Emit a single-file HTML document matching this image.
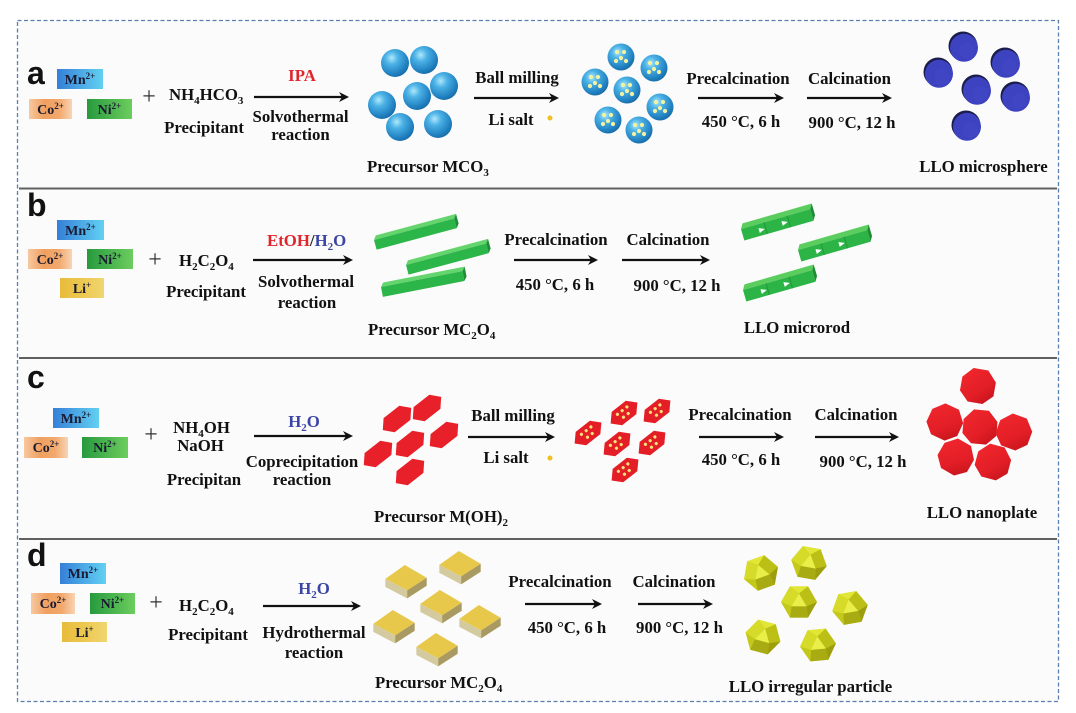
<!DOCTYPE html>
<html><head><meta charset="utf-8">
<style>
html,body{margin:0;padding:0;background:#fff;}
svg{display:block;}
.t{font-family:"Liberation Serif",serif;font-weight:bold;font-size:16.8px;fill:#111;}
.ion{font-family:"Liberation Serif",serif;font-weight:bold;font-size:14px;fill:#1a1a30;}
.L{font-family:"Liberation Sans",sans-serif;font-weight:bold;font-size:32px;fill:#111;}
.p{font-family:"Liberation Serif",serif;font-size:24px;fill:#333;}
</style></head>
<body>
<svg width="1076" height="713" viewBox="0 0 1076 713" xmlns="http://www.w3.org/2000/svg">
<defs>
  <radialGradient id="gBlue" cx="0.38" cy="0.32" r="0.72">
    <stop offset="0" stop-color="#b0e8fb"/>
    <stop offset="0.32" stop-color="#4cb2e6"/>
    <stop offset="0.8" stop-color="#2080c0"/>
    <stop offset="1" stop-color="#176aa6"/>
  </radialGradient>
  <linearGradient id="gMn" x1="0" x2="1" y1="0" y2="0">
    <stop offset="0" stop-color="#3580d8"/><stop offset="1" stop-color="#62d0f2"/>
  </linearGradient>
  <linearGradient id="gCo" x1="0" x2="1" y1="0" y2="0">
    <stop offset="0" stop-color="#f7c8a0"/><stop offset="0.35" stop-color="#f0a060"/><stop offset="0.7" stop-color="#f2a86c"/><stop offset="1" stop-color="#f8d4b4"/>
  </linearGradient>
  <linearGradient id="gNi" x1="0" x2="1" y1="0" y2="0">
    <stop offset="0" stop-color="#279a3e"/><stop offset="1" stop-color="#6ccd5e"/>
  </linearGradient>
  <linearGradient id="gLi" x1="0" x2="1" y1="0" y2="0">
    <stop offset="0" stop-color="#e8bc3c"/><stop offset="0.5" stop-color="#ecc850"/><stop offset="1" stop-color="#f0d670"/>
  </linearGradient>
  <linearGradient id="gRed" x1="0" y1="0" x2="1" y2="1">
    <stop offset="0" stop-color="#f2282e"/><stop offset="0.6" stop-color="#e31e26"/><stop offset="1" stop-color="#bf121a"/>
  </linearGradient>

  <g id="bs"><circle r="14" fill="url(#gBlue)"/></g>
  <g id="ds"><circle r="13.5" fill="url(#gBlue)"/>
    <circle cx="-4" cy="-5" r="2.1" fill="#f4f2a0"/><circle cx="3" cy="-5" r="2.1" fill="#f4f2a0"/>
    <circle cx="0" cy="1" r="2.1" fill="#f4f2a0"/><circle cx="-5" cy="4" r="2.1" fill="#f4f2a0"/>
    <circle cx="5" cy="4" r="2.1" fill="#f4f2a0"/></g>
  <g id="ms"><circle r="14.5" fill="#1a1c4a"/><circle cx="1" cy="1.8" r="14" fill="#3d42c0"/>
    <circle cx="4" cy="5" r="8" fill="#4248c6" opacity="0.6"/></g>

  <g id="rod">
    <polygon points="0,0 83,0 86,-4 3,-4" fill="#64d46c"/>
    <rect x="0" y="0" width="83" height="10" fill="#2cb548"/>
    <polygon points="83,0 86,-4 86,6 83,10" fill="#1e8f36"/>
  </g>
  <g id="prod">
    <polygon points="0,0 72,0 75,-5 3,-5" fill="#5acd5e"/>
    <rect x="0" y="0" width="72" height="12" fill="#2db446"/>
    <polygon points="72,0 75,-5 75,7 72,12" fill="#1d8c34"/>
    <line x1="24" y1="0" x2="24" y2="12" stroke="#23983a" stroke-width="1"/>
    <line x1="48" y1="0" x2="48" y2="12" stroke="#23983a" stroke-width="1"/>
    <polygon points="17,4 23,6.5 17,9" fill="#fff"/>
    <polygon points="41,3.5 47,6 41,8.5" fill="#fff"/>
  </g>
  <g id="hx"><polygon transform="rotate(-38)" points="-18,0 -10,-9 10,-9 18,0 10,9 -10,9" fill="#e8202a"/></g>
  <g id="dhx"><g transform="rotate(-38)">
    <polygon points="-17,0 -9,-8.5 9,-8.5 17,0 9,8.5 -9,8.5" fill="#e41e26"/>
    <circle cx="-6" cy="-3" r="1.6" fill="#f8e27a"/><circle cx="0" cy="-3" r="1.6" fill="#f8e27a"/><circle cx="6" cy="-3" r="1.6" fill="#f8e27a"/>
    <circle cx="-3" cy="3" r="1.6" fill="#f8e27a"/><circle cx="3" cy="3" r="1.6" fill="#f8e27a"/>
  </g></g>
  <g id="oct"><polygon points="-7.5,-17 7.5,-17 17,-6.5 17,7.5 7.5,17 -7.5,17 -17,7.5 -17,-6.5" fill="url(#gRed)"/></g>
  <g id="cube" transform="scale(1.15)">
    <polygon points="-18,-1 -1,-13 18,-2 1,9" fill="#e8c84a"/>
    <polygon points="-18,-1 1,9 1,16 -18,6" fill="#d4caa0"/>
    <polygon points="1,9 18,-2 18,5 1,16" fill="#a99a62"/>
  </g>
  <g id="poly">
    <polygon points="18,0 9,-15.6 -9,-15.6 -18,0 -9,15.6 9,15.6" fill="#c9cd1a"/>
    <polygon points="9,-15.6 -9,-15.6 0,-8.5" fill="#e2e634"/>
    <polygon points="-18,0 -9,-15.6 0,-8.5 -7.5,4.2" fill="#d6da28"/>
    <polygon points="18,0 9,-15.6 0,-8.5 7.5,4.2" fill="#bcc016"/>
    <polygon points="-9,15.6 9,15.6 7.5,4.2 -7.5,4.2" fill="#a8ac12"/>
    <polygon points="-18,0 -7.5,4.2 -9,15.6" fill="#c4c81a"/>
    <polygon points="18,0 7.5,4.2 9,15.6" fill="#9c9e0e"/>
    <polygon points="0,-8.5 7.5,4.2 -7.5,4.2" fill="#eaee48"/>
  </g>
</defs>

<!-- background & frame -->
<rect x="17.5" y="20.5" width="1041" height="681" fill="#fbfbfb"/>
<line x1="19" y1="188.5" x2="1057" y2="188.5" stroke="#606060" stroke-width="2"/>
<line x1="19" y1="358" x2="1057" y2="358" stroke="#606060" stroke-width="2"/>
<line x1="19" y1="539" x2="1057" y2="539" stroke="#606060" stroke-width="2"/>
<rect x="17.5" y="20.5" width="1041" height="681" fill="none" stroke="#5b7fb0" stroke-width="1.3" stroke-dasharray="4 2.5"/>

<!-- ===== Panel a ===== -->
<text class="L" x="27" y="84">a</text>
<rect x="57" y="69" width="46" height="20" fill="url(#gMn)"/>
<text class="ion" x="80" y="84" text-anchor="middle">Mn<tspan font-size="9" dy="-5">2+</tspan></text>
<rect x="29" y="99" width="43" height="20" fill="url(#gCo)"/>
<text class="ion" x="50.5" y="114" text-anchor="middle">Co<tspan font-size="9" dy="-5">2+</tspan></text>
<rect x="87" y="99" width="45" height="20" fill="url(#gNi)"/>
<text class="ion" x="109.5" y="114" text-anchor="middle">Ni<tspan font-size="9" dy="-5">2+</tspan></text>
<text class="p" x="149" y="104" text-anchor="middle">+</text>
<text class="t" x="169" y="100">NH<tspan font-size="11" dy="4">4</tspan><tspan dy="-4">HCO</tspan><tspan font-size="11" dy="4">3</tspan></text>
<text class="t" x="204" y="133" text-anchor="middle">Precipitant</text>
<text class="t" x="302" y="81" text-anchor="middle" style="fill:#e0262c">IPA</text>
<line x1="254" y1="97" x2="343" y2="97" stroke="#111" stroke-width="2.2"/>
<polygon points="349,97 339,92 342,97 339,102" fill="#111"/>
<text class="t" x="300.5" y="122" text-anchor="middle">Solvothermal</text>
<text class="t" x="300.5" y="140" text-anchor="middle">reaction</text>
<use href="#bs" transform="translate(395,63)"/>
<use href="#bs" transform="translate(424,60)"/>
<use href="#bs" transform="translate(444,86)"/>
<use href="#bs" transform="translate(382,105)"/>
<use href="#bs" transform="translate(417,96)"/>
<use href="#bs" transform="translate(400,127)"/>
<use href="#bs" transform="translate(438,124)"/>
<text class="t" x="367" y="172">Precursor MCO<tspan font-size="11" dy="4">3</tspan></text>
<text class="t" x="517" y="83" text-anchor="middle">Ball milling</text>
<line x1="474" y1="98" x2="553" y2="98" stroke="#111" stroke-width="2.2"/>
<polygon points="559,98 549,93 552,98 549,103" fill="#111"/>
<text class="t" x="511" y="125" text-anchor="middle">Li salt</text>
<circle cx="550" cy="118" r="2.5" fill="#f0c020"/>
<use href="#ds" transform="translate(621,57)"/>
<use href="#ds" transform="translate(654,68)"/>
<use href="#ds" transform="translate(595,82)"/>
<use href="#ds" transform="translate(627,90)"/>
<use href="#ds" transform="translate(660,107)"/>
<use href="#ds" transform="translate(608,120)"/>
<use href="#ds" transform="translate(639,130)"/>
<text class="t" x="738" y="84" text-anchor="middle">Precalcination</text>
<line x1="698" y1="98" x2="778" y2="98" stroke="#111" stroke-width="2.2"/>
<polygon points="784,98 774,93 777,98 774,103" fill="#111"/>
<text class="t" x="741" y="127" text-anchor="middle">450 °C, 6 h</text>
<text class="t" x="849.5" y="84" text-anchor="middle">Calcination</text>
<line x1="807" y1="98" x2="886" y2="98" stroke="#111" stroke-width="2.2"/>
<polygon points="892,98 882,93 885,98 882,103" fill="#111"/>
<text class="t" x="852" y="128" text-anchor="middle">900 °C, 12 h</text>
<use href="#ms" transform="translate(963,46)"/>
<use href="#ms" transform="translate(1005,62)"/>
<use href="#ms" transform="translate(938,72)"/>
<use href="#ms" transform="translate(976,89)"/>
<use href="#ms" transform="translate(1015,96)"/>
<use href="#ms" transform="translate(966,125)"/>
<text class="t" x="983.5" y="172" text-anchor="middle">LLO microsphere</text>

<!-- ===== Panel b ===== -->
<text class="L" x="27" y="216">b</text>
<rect x="57" y="220" width="47" height="20" fill="url(#gMn)"/>
<text class="ion" x="80.5" y="235" text-anchor="middle">Mn<tspan font-size="9" dy="-5">2+</tspan></text>
<rect x="28" y="249" width="44" height="20" fill="url(#gCo)"/>
<text class="ion" x="50" y="264" text-anchor="middle">Co<tspan font-size="9" dy="-5">2+</tspan></text>
<rect x="87" y="249" width="46" height="20" fill="url(#gNi)"/>
<text class="ion" x="110" y="264" text-anchor="middle">Ni<tspan font-size="9" dy="-5">2+</tspan></text>
<rect x="60" y="278" width="44" height="20" fill="url(#gLi)"/>
<text class="ion" x="82" y="293" text-anchor="middle">Li<tspan font-size="9" dy="-5">+</tspan></text>
<text class="p" x="155" y="267" text-anchor="middle">+</text>
<text class="t" x="179" y="266">H<tspan font-size="11" dy="4">2</tspan><tspan dy="-4">C</tspan><tspan font-size="11" dy="4">2</tspan><tspan dy="-4">O</tspan><tspan font-size="11" dy="4">4</tspan></text>
<text class="t" x="206" y="297" text-anchor="middle">Precipitant</text>
<text class="t" x="267" y="246"><tspan style="fill:#e0262c">EtOH</tspan><tspan style="fill:#222">/</tspan><tspan style="fill:#3b45a5">H</tspan><tspan style="fill:#3b45a5" font-size="11" dy="4">2</tspan><tspan style="fill:#3b45a5" dy="-4">O</tspan></text>
<line x1="253" y1="260" x2="347" y2="260" stroke="#111" stroke-width="2.2"/>
<polygon points="353,260 343,255 346,260 343,265" fill="#111"/>
<text class="t" x="306" y="287" text-anchor="middle">Solvothermal</text>
<text class="t" x="307" y="308" text-anchor="middle">reaction</text>
<use href="#rod" transform="translate(374,240) rotate(-15)"/>
<use href="#rod" transform="translate(406,265) rotate(-15)"/>
<use href="#rod" transform="translate(381,287) rotate(-11)"/>
<text class="t" x="368" y="335">Precursor MC<tspan font-size="11" dy="4">2</tspan><tspan dy="-4">O</tspan><tspan font-size="11" dy="4">4</tspan></text>
<text class="t" x="556" y="245" text-anchor="middle">Precalcination</text>
<line x1="514" y1="260" x2="592" y2="260" stroke="#111" stroke-width="2.2"/>
<polygon points="598,260 588,255 591,260 588,265" fill="#111"/>
<text class="t" x="555" y="290" text-anchor="middle">450 °C, 6 h</text>
<text class="t" x="668" y="245" text-anchor="middle">Calcination</text>
<line x1="622" y1="260" x2="704" y2="260" stroke="#111" stroke-width="2.2"/>
<polygon points="710,260 700,255 703,260 700,265" fill="#111"/>
<text class="t" x="677" y="291" text-anchor="middle">900 °C, 12 h</text>
<use href="#prod" transform="translate(741,229) rotate(-16)"/>
<use href="#prod" transform="translate(798,250) rotate(-16)"/>
<use href="#prod" transform="translate(743,290) rotate(-16)"/>
<text class="t" x="797" y="333" text-anchor="middle">LLO microrod</text>

<!-- ===== Panel c ===== -->
<text class="L" x="27" y="388">c</text>
<rect x="53" y="408" width="46" height="20" fill="url(#gMn)"/>
<text class="ion" x="76" y="423" text-anchor="middle">Mn<tspan font-size="9" dy="-5">2+</tspan></text>
<rect x="24" y="437" width="44" height="21" fill="url(#gCo)"/>
<text class="ion" x="46" y="452" text-anchor="middle">Co<tspan font-size="9" dy="-5">2+</tspan></text>
<rect x="82" y="437" width="46" height="21" fill="url(#gNi)"/>
<text class="ion" x="105" y="452" text-anchor="middle">Ni<tspan font-size="9" dy="-5">2+</tspan></text>
<text class="p" x="151" y="442" text-anchor="middle">+</text>
<text class="t" x="201.5" y="433" text-anchor="middle">NH<tspan font-size="11" dy="4">4</tspan><tspan dy="-4">OH</tspan></text>
<text class="t" x="200.5" y="451" text-anchor="middle">NaOH</text>
<text class="t" x="204" y="485" text-anchor="middle">Precipitan</text>
<text class="t" x="304" y="427" text-anchor="middle" style="fill:#3b45a5">H<tspan font-size="11" dy="4">2</tspan><tspan dy="-4">O</tspan></text>
<line x1="254" y1="436" x2="347" y2="436" stroke="#111" stroke-width="2.2"/>
<polygon points="353,436 343,431 346,436 343,441" fill="#111"/>
<text class="t" x="302" y="467" text-anchor="middle">Coprecipitation</text>
<text class="t" x="302" y="485" text-anchor="middle">reaction</text>
<use href="#hx" transform="translate(427,408)"/>
<use href="#hx" transform="translate(397,419)"/>
<use href="#hx" transform="translate(444,435)"/>
<use href="#hx" transform="translate(410,444)"/>
<use href="#hx" transform="translate(378,454)"/>
<use href="#hx" transform="translate(410,472)"/>
<text class="t" x="374" y="522">Precursor M(OH)<tspan font-size="11" dy="4">2</tspan></text>
<text class="t" x="513" y="421" text-anchor="middle">Ball milling</text>
<line x1="468" y1="437" x2="549" y2="437" stroke="#111" stroke-width="2.2"/>
<polygon points="555,437 545,432 548,437 545,442" fill="#111"/>
<text class="t" x="506" y="463" text-anchor="middle">Li salt</text>
<circle cx="550" cy="458" r="2.5" fill="#f0c020"/>
<use href="#dhx" transform="translate(588,433)"/>
<use href="#dhx" transform="translate(624,413)"/>
<use href="#dhx" transform="translate(657,411)"/>
<use href="#dhx" transform="translate(617,444)"/>
<use href="#dhx" transform="translate(652,443)"/>
<use href="#dhx" transform="translate(625,470)"/>
<text class="t" x="740" y="420" text-anchor="middle">Precalcination</text>
<line x1="699" y1="437" x2="778" y2="437" stroke="#111" stroke-width="2.2"/>
<polygon points="784,437 774,432 777,437 774,442" fill="#111"/>
<text class="t" x="741" y="465" text-anchor="middle">450 °C, 6 h</text>
<text class="t" x="856" y="420" text-anchor="middle">Calcination</text>
<line x1="815" y1="437" x2="893" y2="437" stroke="#111" stroke-width="2.2"/>
<polygon points="899,437 889,432 892,437 889,442" fill="#111"/>
<text class="t" x="863" y="467" text-anchor="middle">900 °C, 12 h</text>
<use href="#oct" transform="translate(978,386) rotate(10)"/>
<use href="#oct" transform="translate(945,422) rotate(25)"/>
<use href="#oct" transform="translate(980,427) rotate(5)"/>
<use href="#oct" transform="translate(1014,432) rotate(20)"/>
<use href="#oct" transform="translate(956,457) rotate(30)"/>
<use href="#oct" transform="translate(993,462) rotate(15)"/>
<text class="t" x="982" y="518" text-anchor="middle">LLO nanoplate</text>

<!-- ===== Panel d ===== -->
<text class="L" x="27" y="566">d</text>
<rect x="60" y="563" width="46" height="21" fill="url(#gMn)"/>
<text class="ion" x="83" y="578" text-anchor="middle">Mn<tspan font-size="9" dy="-5">2+</tspan></text>
<rect x="31" y="593" width="44" height="21" fill="url(#gCo)"/>
<text class="ion" x="53" y="608" text-anchor="middle">Co<tspan font-size="9" dy="-5">2+</tspan></text>
<rect x="90" y="593" width="45" height="21" fill="url(#gNi)"/>
<text class="ion" x="112.5" y="608" text-anchor="middle">Ni<tspan font-size="9" dy="-5">2+</tspan></text>
<rect x="62" y="622" width="45" height="20" fill="url(#gLi)"/>
<text class="ion" x="84.5" y="637" text-anchor="middle">Li<tspan font-size="9" dy="-5">+</tspan></text>
<text class="p" x="156" y="610" text-anchor="middle">+</text>
<text class="t" x="179" y="611">H<tspan font-size="11" dy="4">2</tspan><tspan dy="-4">C</tspan><tspan font-size="11" dy="4">2</tspan><tspan dy="-4">O</tspan><tspan font-size="11" dy="4">4</tspan></text>
<text class="t" x="208" y="640" text-anchor="middle">Precipitant</text>
<text class="t" x="314" y="594" text-anchor="middle" style="fill:#3b45a5">H<tspan font-size="11" dy="4">2</tspan><tspan dy="-4">O</tspan></text>
<line x1="263" y1="606" x2="355" y2="606" stroke="#111" stroke-width="2.2"/>
<polygon points="361,606 351,601 354,606 351,611" fill="#111"/>
<text class="t" x="314" y="638" text-anchor="middle">Hydrothermal</text>
<text class="t" x="314" y="658" text-anchor="middle">reaction</text>
<use href="#cube" transform="translate(406,580)"/>
<use href="#cube" transform="translate(460,566)"/>
<use href="#cube" transform="translate(441,605)"/>
<use href="#cube" transform="translate(394,625)"/>
<use href="#cube" transform="translate(480,620)"/>
<use href="#cube" transform="translate(437,648)"/>
<text class="t" x="375" y="688">Precursor MC<tspan font-size="11" dy="4">2</tspan><tspan dy="-4">O</tspan><tspan font-size="11" dy="4">4</tspan></text>
<text class="t" x="560" y="587" text-anchor="middle">Precalcination</text>
<line x1="525" y1="604" x2="596" y2="604" stroke="#111" stroke-width="2.2"/>
<polygon points="602,604 592,599 595,604 592,609" fill="#111"/>
<text class="t" x="567" y="633" text-anchor="middle">450 °C, 6 h</text>
<text class="t" x="674" y="587" text-anchor="middle">Calcination</text>
<line x1="638" y1="604" x2="707" y2="604" stroke="#111" stroke-width="2.2"/>
<polygon points="713,604 703,599 706,604 703,609" fill="#111"/>
<text class="t" x="679.5" y="633" text-anchor="middle">900 °C, 12 h</text>
<use href="#poly" transform="translate(761,573) rotate(-20)"/>
<use href="#poly" transform="translate(809,563) rotate(10)"/>
<use href="#poly" transform="translate(799,602) rotate(0)"/>
<use href="#poly" transform="translate(850,608) rotate(-10)"/>
<use href="#poly" transform="translate(763,637) rotate(15)"/>
<use href="#poly" transform="translate(818,645) rotate(-5)"/>
<text class="t" x="810.5" y="692" text-anchor="middle">LLO irregular particle</text>
</svg>
</body></html>
